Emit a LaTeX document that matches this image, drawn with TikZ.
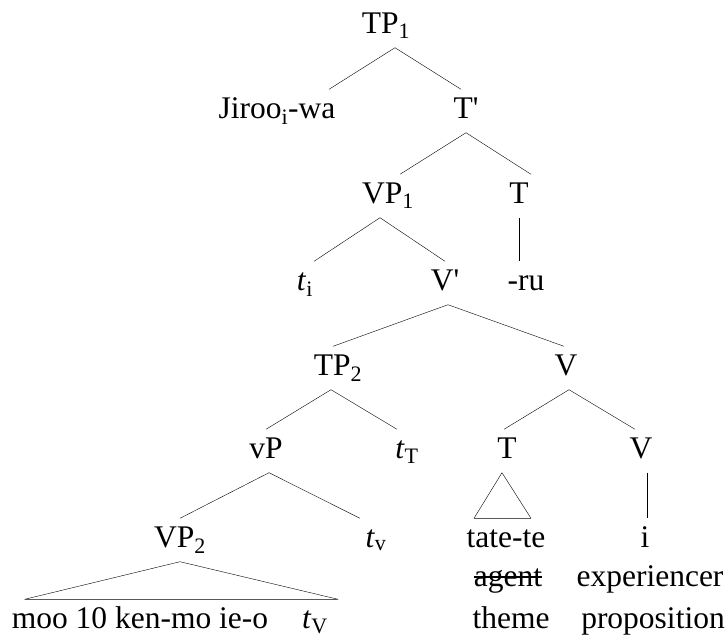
\documentclass[tikz,border=0pt]{standalone}
\usepackage{fontspec}
\setmainfont{Liberation Serif}
\tikzset{font=\fontsize{31.5}{36}\selectfont, line width=1.8pt}
\tikzset{cat/.style={anchor=base, inner xsep=0pt, inner ysep=7.5pt,
    text height=21pt, text depth=7pt}}

\begin{document}
\begin{tikzpicture}[x=1pt,y=-1pt]
    \useasboundingbox (0,0) rectangle (728,638);
    % nodes, placed by baseline
    \node[cat] (TP1) at (386,33) {TP\textsubscript{1}};
    \node[cat] (jiroo) at (277,118) {Jiroo\textsubscript{i}-wa};
    \node[cat] (Tbar) at (466,118) {T\textquotesingle};
    \node[cat] (VP1) at (388,203) {VP\textsubscript{1}};
    \node[cat] (T1) at (519,203) {T};
    \node[cat] (ti) at (305,290) {\textit{t}\textsubscript{i}};
    \node[cat] (Vbar) at (445,290) {V\textquotesingle};
    \node[cat] (ru) at (526,290) {-ru};
    \node[cat] (TP2) at (338,375) {TP\textsubscript{2}};
    \node[cat] (V1) at (566,375) {V};
    \node[cat] (vP) at (266,458) {vP};
    \node[cat] (tT) at (407,458) {\textit{t}\textsubscript{T}};
    \node[cat] (T2) at (507,458) {T};
    \node[cat] (V2) at (641,458) {V};
    \node[cat] (VP2) at (180,547) {VP\textsubscript{2}};
    \node[cat] (tv) at (376,547) {\textit{t}\textsubscript{v}};
    \node[cat] (tatete) at (506,547) {tate-te};
    \node[cat] (i) at (645,547) {i};
    \node[cat] (agent) at (508,586) {agent};
    \node[cat] (exper) at (650,586) {experiencer};
    \node[cat] (moo) at (140,628) {moo 10 ken-mo ie-o};
    \node[cat] (tV) at (315,628) {\textit{t}\textsubscript{V}};
    \node[cat] (theme) at (511,628) {theme};
    \node[cat] (prop) at (653,628) {proposition};
    % branches
    \draw ([xshift=9pt]TP1.south) -- ([xshift=52pt]jiroo.north);
    \draw ([xshift=9pt]TP1.south) -- ([xshift=-5pt]Tbar.north);
    \draw (Tbar.south) -- ([xshift=12pt]VP1.north);
    \draw (Tbar.south) -- ([xshift=12pt]T1.north);
    \draw ([xshift=-8pt]VP1.south) -- ([xshift=9pt]ti.north);
    \draw ([xshift=-8pt]VP1.south) -- (Vbar.north);
    \draw (T1.south) -- ([xshift=-7pt]ru.north);
    \draw ([xshift=3pt]Vbar.south) -- ([xshift=-5pt]TP2.north);
    \draw ([xshift=3pt]Vbar.south) -- ([xshift=-2pt]V1.north);
    \draw ([xshift=-7pt]TP2.south) -- (vP.north);
    \draw ([xshift=-7pt]TP2.south) -- ([xshift=-10pt]tT.north);
    \draw ([xshift=3pt]V1.south) -- ([xshift=-3pt]T2.north);
    \draw ([xshift=3pt]V1.south) -- ([xshift=-6pt]V2.north);
    \draw ([xshift=3pt]vP.south) -- (VP2.north);
    \draw ([xshift=3pt]vP.south) -- ([xshift=-16pt]tv.north);
    \draw ([xshift=6pt]V2.south) -- ([xshift=2pt]i.north);
    % triangles
    \draw[line join=round] (VP2.south) -- ([xshift=13pt]moo.north west)
      -- ([xshift=10pt]tV.north east) -- cycle;
    \draw[line join=round] ([xshift=-5pt]T2.south) -- ([xshift=-32pt]tatete.north)
      -- ([xshift=25pt]tatete.north) -- cycle;
    % struck out role
    \draw[line width=1.5pt] ([yshift=9pt]agent.base west) -- ([yshift=9pt]agent.base east);
  \end{tikzpicture}
\end{document}
